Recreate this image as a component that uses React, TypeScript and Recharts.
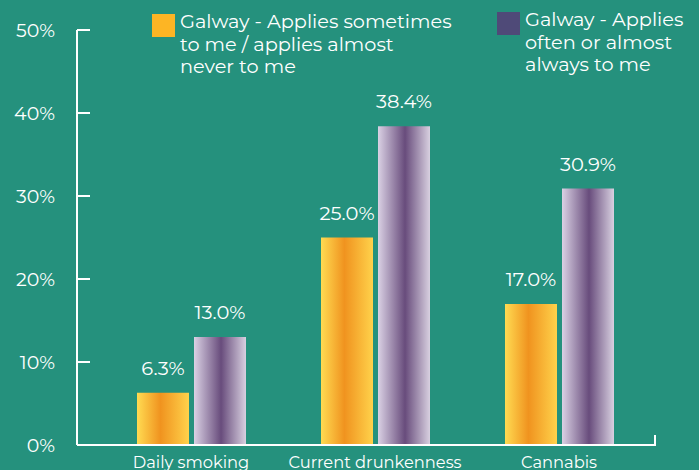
import { BarChart, Bar, XAxis, YAxis, LabelList, Legend, Customized } from "recharts";

const CATEGORIES = ["Daily smoking", "Current drunkenness", "Cannabis"];
const SOMETIMES = [6.3, 25.0, 17.0];
const OFTEN = [13.0, 38.4, 30.9];
const Y_TICKS = [0, 10, 20, 30, 40, 50];

const SERIES = [
  {
    key: "sometimes",
    name: "Galway - Applies sometimes\nto me / applies almost\nnever to me",
    swatch: "#FDB524",
    fill: "url(#gradOrange)",
  },
  {
    key: "often",
    name: "Galway - Applies\noften or almost\nalways to me",
    swatch: "#4F4A78",
    fill: "url(#gradPurple)",
  },
];

const data = CATEGORIES.map((c, i) => ({ category: c, sometimes: SOMETIMES[i], often: OFTEN[i] }));

const W = 699;
const H = 470;
const MARGIN = { top: 30, right: 44, bottom: 0, left: 0 };
const X_AXIS_H = 25;
const BG = "#25917D";
const FONT = "Montserrat, Inter, sans-serif";

function LegendBox() {
  return (
    <div style={{ display: "flex", fontFamily: FONT, color: "#fff", fontSize: 19.3, lineHeight: "22.6px" }}>
      {SERIES.map((s, i) => (
        <div
          key={s.key}
          style={{ display: "flex", width: i === 0 ? 345 : 200, alignItems: "flex-start", position: "relative", top: i === 0 ? 0 : -2 }}
        >
          <span style={{ width: 23, height: 23, background: s.swatch, marginTop: 4, marginRight: 5, flex: "none" }} />
          <span style={{ whiteSpace: "pre-line" }}>{s.name}</span>
        </div>
      ))}
    </div>
  );
}

// small upward tick closing the x axis on the right
function AxisEnd() {
  const x = W - MARGIN.right;
  const y = H - MARGIN.bottom - X_AXIS_H;
  return <line x1={x} y1={y + 1} x2={x} y2={y - 10} stroke="#fff" strokeWidth={2} />;
}

export default function App() {
  return (
    <div style={{ position: "absolute", left: 0, top: 0, width: W, height: H, background: BG }}>
      <BarChart width={W} height={H} data={data} margin={MARGIN} barSize={52} barGap={5}>
        <defs>
          <linearGradient id="gradOrange" x1="0" y1="0" x2="1" y2="0">
            <stop offset="0%" stopColor="#FFDB52" />
            <stop offset="45%" stopColor="#F0931F" />
            <stop offset="100%" stopColor="#FFD24B" />
          </linearGradient>
          <linearGradient id="gradPurple" x1="0" y1="0" x2="1" y2="0">
            <stop offset="0%" stopColor="#DAD1E4" />
            <stop offset="52%" stopColor="#684C7C" />
            <stop offset="100%" stopColor="#D8D0E0" />
          </linearGradient>
        </defs>
        <XAxis
          dataKey="category"
          height={X_AXIS_H}
          padding={{ left: 22, right: 4 }}
          axisLine={{ stroke: "#fff", strokeWidth: 2 }}
          tickLine={false}
          tickMargin={5}
          tick={{ fill: "#fff", fontSize: 16.3, fontFamily: FONT }}
          interval={0}
        />
        <YAxis
          width={77}
          domain={[0, 50]}
          ticks={Y_TICKS}
          tickFormatter={(v: number) => `${v}%`}
          axisLine={{ stroke: "#fff", strokeWidth: 2 }}
          tickLine={{ stroke: "#fff", strokeWidth: 2 }}
          tickSize={-13}
          tickMargin={35}
          tick={{ fill: "#fff", fontSize: 19, fontFamily: FONT }}
        />
        <Legend
          verticalAlign="middle"
          align="center"
          wrapperStyle={{ top: 10, left: 152, width: 545 }}
          content={() => <LegendBox />}
        />
        {SERIES.map((s) => (
          <Bar key={s.key} dataKey={s.key} name={s.name} fill={s.fill} isAnimationActive={false}>
            <LabelList
              dataKey={s.key}
              position="top"
              offset={18}
              fill="#fff"
              fontSize={19.5}
              fontFamily={FONT}
              formatter={(v: number) => `${Number(v).toFixed(1)}%`}
            />
          </Bar>
        ))}
        <Customized component={AxisEnd} />
      </BarChart>
    </div>
  );
}
